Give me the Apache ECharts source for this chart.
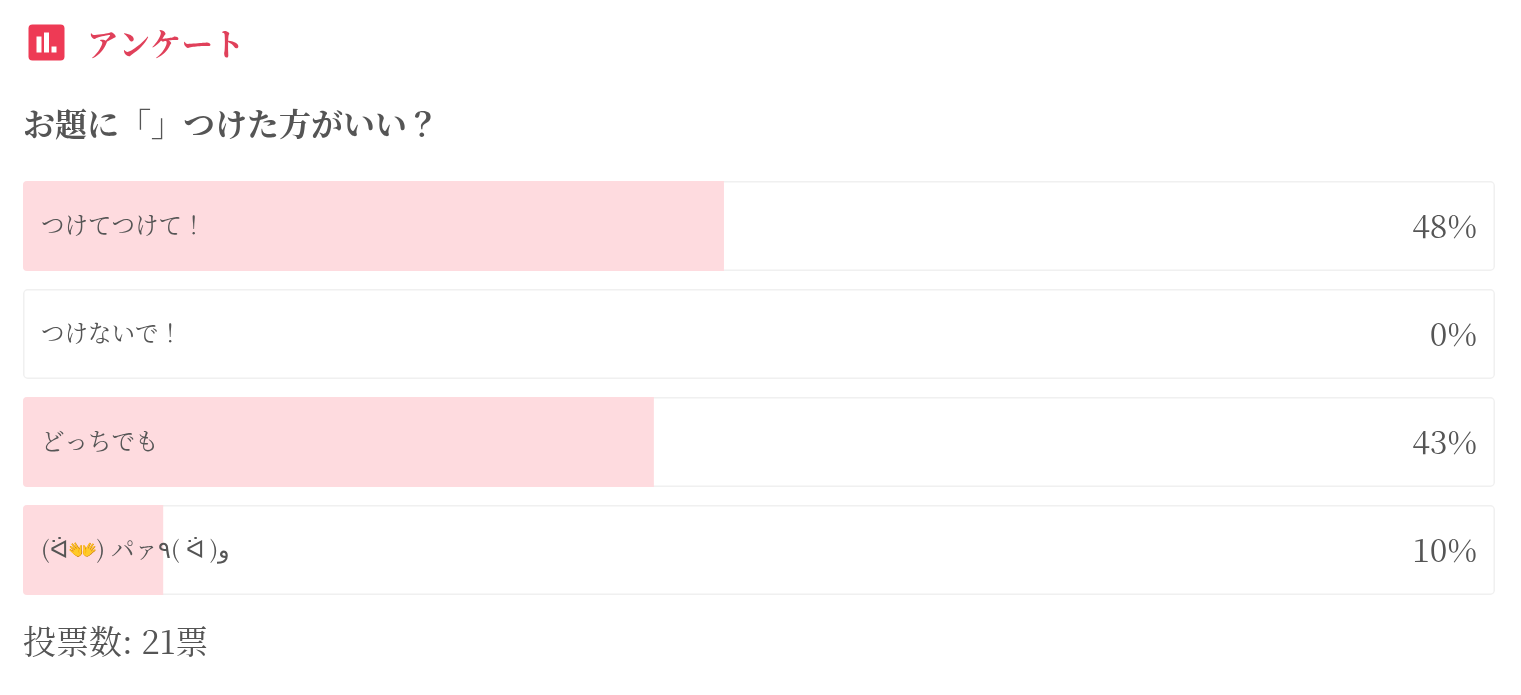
<!DOCTYPE html>
<html>
<head>
<meta charset="utf-8">
<style>
  html, body { margin: 0; padding: 0; background: #fff; }
  #chart { width: 1521px; height: 695px; }
</style>
<script src="https://cdn.jsdelivr.net/npm/echarts@6/dist/echarts.min.js"></script>
</head>
<body>
<div id="chart"></div>
<script>
const heading = 'アンケート'
const question = 'お題に「」つけた方がいい？'
const choices = ['つけてつけて！', 'つけないで！', 'どっちでも', '(ᐛ👐) パァ٩( ᐛ )و']
const votes = [10, 0, 9, 2]
const percents = ['48%', '0%', '43%', '10%']
const totalVotes = 21
const footer = '投票数: 21票'

const serif = '"Noto Serif CJK JP", "Liberation Serif", "Noto Sans CJK JP", serif'
const textColor = '#555'
const red = '#ee3a55'

const chart = echarts.init(document.getElementById('chart'), null, { renderer: 'canvas' })

chart.setOption({
  animation: false,
  backgroundColor: '#fff',
  title: [ // title自带5px padding
    { text: heading, left: 82, top: 23, textStyle: { color: '#e0405a', fontFamily: serif, fontSize: 31.5, fontWeight: 'bold' } },
    { text: question, left: 18, top: 103, textStyle: { color: textColor, fontFamily: serif, fontSize: 32, fontWeight: 'bold' } },
    { text: footer, left: 18, top: 620, textStyle: { color: textColor, fontFamily: serif, fontSize: 33, fontWeight: 'normal' } }
  ],
  graphic: [{ // 标题图标
    type: 'group',
    x: 28.5,
    y: 24.5,
    children: [
      { type: 'rect', shape: { x: 0, y: 0, width: 36, height: 36, r: 4 }, style: { fill: red } },
      { type: 'rect', shape: { x: 8, y: 12, width: 5, height: 16 }, style: { fill: '#fff' } },
      { type: 'rect', shape: { x: 15.5, y: 8, width: 5, height: 20 }, style: { fill: '#fff' } },
      { type: 'rect', shape: { x: 23, y: 22, width: 5, height: 6 }, style: { fill: '#fff' } }
    ]
  }],
  grid: { left: 23, right: 26, top: 172, height: 432 },
  xAxis: { type: 'value', min: 0, max: totalVotes, show: false },
  yAxis: { type: 'category', inverse: true, data: choices, show: false },
  series: [
    {
      name: 'track',
      type: 'bar',
      barWidth: 90,
      barGap: '-100%',
      silent: true,
      data: choices.map(() => totalVotes),
      itemStyle: { color: '#fff', borderColor: '#f0f0f0', borderWidth: 1.5, borderRadius: 4 },
      label: {
        show: true,
        position: 'insideRight',
        distance: 18,
        formatter: (p) => percents[p.dataIndex],
        color: textColor,
        fontFamily: serif,
        fontSize: 32
      }
    },
    {
      name: 'votes',
      type: 'bar',
      barWidth: 90,
      data: votes,
      itemStyle: { color: '#fedbdf', borderRadius: [4, 0, 0, 4] },
      label: {
        show: true,
        position: 'insideLeft',
        distance: 18,
        offset: [0, -1],
        formatter: (p) => choices[p.dataIndex],
        color: textColor,
        fontFamily: serif,
        fontSize: 23.5
      }
    }
  ]
})
</script>
</body>
</html>
